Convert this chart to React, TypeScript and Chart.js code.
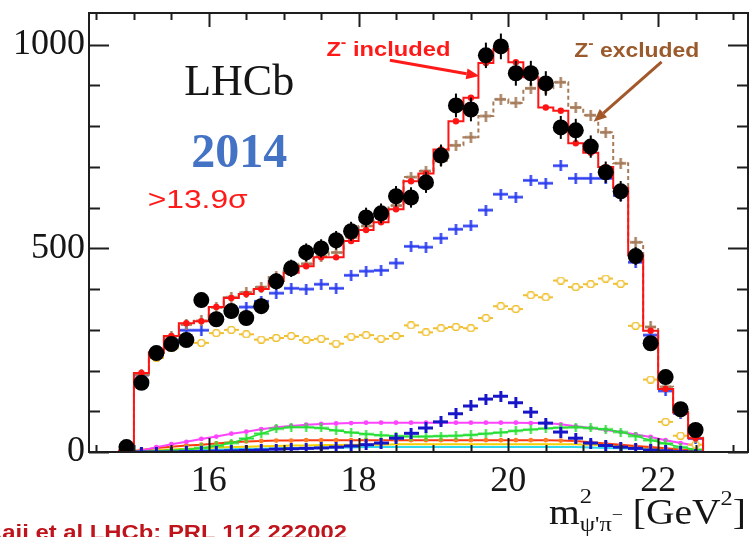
import React, { useEffect, useRef } from "react";
import { Chart, registerables } from "chart.js";

Chart.register(...registerables);

// ---------- data ----------
const BIN_CENTERS = [14.9, 15.1, 15.3, 15.5, 15.7, 15.9, 16.1, 16.3, 16.5, 16.7, 16.9, 17.1, 17.3, 17.5, 17.7, 17.9, 18.1, 18.3, 18.5, 18.7, 18.9, 19.1, 19.3, 19.5, 19.7, 19.9, 20.1, 20.3, 20.5, 20.7, 20.9, 21.1, 21.3, 21.5, 21.7, 21.9, 22.1, 22.3, 22.5];
const BIN_WIDTH = 0.2;

const DATA = [12, 170, 243, 265, 275, 373, 326, 346, 329, 358, 419, 451, 490, 500, 520, 542, 576, 586, 628, 625, 662, 728, 851, 841, 974, 996, 930, 930, 905, 797, 790, 750, 687, 640, 481, 267, 184, 105, 54];
const Z_INCLUDED = [3, 194, 245, 285, 316, 321, 356, 378, 388, 400, 420, 440, 456, 478, 478, 518, 545, 564, 596, 665, 684, 743, 812, 870, 955, 990, 957, 920, 846, 838, 758, 735, 700, 648, 483, 298, 155, 97, 34];
const Z_EXCLUDED = [3, 190, 243, 283, 313, 322, 355, 380, 392, 405, 430, 448, 462, 480, 490, 527, 555, 574, 605, 675, 690, 715, 753, 773, 825, 866, 857, 893, 893, 908, 846, 827, 785, 709, 515, 307, 160, 98, 35];
const KSTAR = [0, 189, 240, 275, 299, 299, 330, 345, 356, 370, 390, 402, 400, 412, 402, 434, 444, 446, 464, 505, 503, 525, 547, 555, 594, 633, 626, 667, 660, 703, 672, 672, 672, 630, 466, 287, 150, 95, 33];
const NONRES = [0, 178, 231, 255, 278, 268, 292, 300, 289, 276, 280, 285, 275, 278, 266, 283, 287, 278, 285, 311, 294, 304, 307, 304, 329, 358, 351, 385, 380, 421, 405, 412, 426, 413, 310, 178, 74, 40, 18];
const Z4430 = [0, 0, 0, 0, 1, 1, 2, 3, 4, 5, 7, 8, 9, 10, 12, 15, 18, 22, 34, 46, 59, 74, 94, 113, 130, 137, 121, 98, 71, 49, 34, 22, 16, 12, 9, 5, 3, 1, 0];
const MAGENTA = [0, 3, 12, 19, 25, 32, 38, 45, 50, 56, 61, 64, 67, 69, 70, 71, 72, 72, 72, 72, 72, 72, 72, 72, 72, 72, 72, 71, 71, 68, 63, 59, 54, 49, 43, 37, 29, 22, 16];
const GREEN = [0, 1, 2, 4, 6, 10, 15, 22, 33, 45, 57, 61, 61, 59, 53, 48, 44, 41, 39, 38, 38, 39, 40, 42, 45, 48, 52, 55, 58, 60, 61, 59, 56, 49, 39, 29, 21, 12, 6];
const ORANGE = [0, 5, 10, 13, 16, 18, 21, 24, 26, 27, 28, 28, 29, 29, 29, 29, 29, 29, 29, 29, 29, 29, 29, 29, 29, 29, 29, 29, 29, 28, 27, 24, 21, 18, 15, 12, 9, 6, 4];
const YELLOW_SMALL = [0, 2, 4, 6, 8, 9, 11, 12, 13, 14, 15, 16, 16, 17, 17, 18, 18, 18, 19, 19, 19, 19, 19, 19, 19, 19, 19, 19, 19, 19, 19, 18, 17, 15, 13, 10, 8, 5, 3];
const CYAN = [0, 1, 2, 3, 4, 5, 6, 7, 8, 8, 9, 10, 10, 11, 11, 11, 12, 12, 12, 12, 12, 12, 12, 12, 12, 12, 12, 12, 12, 12, 12, 11, 10, 9, 8, 6, 4, 3, 2];

const X_TICK_LABELS = [16, 18, 20, 22];
const Y_TICK_LABELS = [0, 500, 1000];
const X_MIN = 14.4;
const X_MAX = 23.2;
const Y_MIN = 0;
const Y_MAX = 1078;
const X_MINOR_STEP = 0.5;
const Y_MINOR_STEP = 100;

// annotation anchors, in data units
const ANNOT = {
  lhcb: { x: 16.405, y: 877 },
  year: { x: 16.405, y: 700 },
  sigma: { x: 15.184, y: 599 },
  zin: { x: 17.57, y: 972 },
  zex: { x: 20.88, y: 970 },
  arrowIn: { x0: 18.418, y0: 962, x1: 19.613, y1: 923 },
  arrowEx: { x0: 22.046, y0: 958, x1: 21.139, y1: 811 },
};

// ---------- helpers ----------
const atCenters = (vals: number[]) => vals.map((v, i) => ({ x: BIN_CENTERS[i], y: v }));

function stepPoints(vals: number[]) {
  const pts: { x: number; y: number }[] = [];
  const first = BIN_CENTERS[0] - BIN_WIDTH / 2;
  pts.push({ x: first, y: 0 });
  vals.forEach((v, i) => {
    pts.push({ x: BIN_CENTERS[i] - BIN_WIDTH / 2, y: v });
    pts.push({ x: BIN_CENTERS[i] + BIN_WIDTH / 2, y: v });
  });
  pts.push({ x: BIN_CENTERS[BIN_CENTERS.length - 1] + BIN_WIDTH / 2, y: 0 });
  return pts;
}

function makeMarker(o: { color: string; w: number; h: number; lw: number; vertical?: boolean; circle?: number; circleFill?: string }) {
  const c = document.createElement("canvas");
  c.width = o.w;
  c.height = o.h;
  const g = c.getContext("2d")!;
  g.strokeStyle = o.color;
  g.lineWidth = o.lw;
  g.beginPath();
  g.moveTo(0, o.h / 2);
  g.lineTo(o.w, o.h / 2);
  if (o.vertical !== false) {
    g.moveTo(o.w / 2, 0);
    g.lineTo(o.w / 2, o.h);
  }
  g.stroke();
  if (o.circle) {
    g.beginPath();
    g.arc(o.w / 2, o.h / 2, o.circle, 0, Math.PI * 2);
    g.fillStyle = o.circleFill || o.color;
    g.fill();
    g.lineWidth = 1.6;
    g.stroke();
  }
  return c;
}

type Seg = { t: string; k?: number; dy?: number; noAdv?: boolean };

function drawRich(ctx: CanvasRenderingContext2D, segs: Seg[], x: number, y: number, base: number, family: string, weight: string, color: string, align: "left" | "center" | "right", targetW?: number) {
  ctx.save();
  ctx.fillStyle = color;
  ctx.textBaseline = "alphabetic";
  ctx.textAlign = "left";
  const widths = segs.map((s) => {
    ctx.font = `${weight} ${base * (s.k ?? 1)}px ${family}`;
    return ctx.measureText(s.t).width;
  });
  const natural = segs.reduce((a, s, i) => a + (s.noAdv ? 0 : widths[i]), 0);
  const sx = targetW ? targetW / natural : 1;
  const total = natural * sx;
  const left = align === "left" ? x : align === "center" ? x - total / 2 : x - total;
  ctx.translate(left, y);
  ctx.scale(sx, 1);
  let cx = 0;
  segs.forEach((s, i) => {
    ctx.font = `${weight} ${base * (s.k ?? 1)}px ${family}`;
    ctx.fillText(s.t, cx, (s.dy ?? 0) * base);
    if (!s.noAdv) cx += widths[i];
  });
  ctx.restore();
}

function arrow(ctx: CanvasRenderingContext2D, x0: number, y0: number, x1: number, y1: number, color: string, lw: number, headLen: number, headW: number) {
  const ang = Math.atan2(y1 - y0, x1 - x0);
  const bx = x1 - headLen * Math.cos(ang);
  const by = y1 - headLen * Math.sin(ang);
  ctx.save();
  ctx.strokeStyle = color;
  ctx.lineWidth = lw;
  ctx.beginPath();
  ctx.moveTo(x0, y0);
  ctx.lineTo(bx, by);
  ctx.stroke();
  ctx.fillStyle = color;
  ctx.beginPath();
  ctx.moveTo(x1, y1);
  ctx.lineTo(bx + (headW / 2) * Math.sin(ang), by - (headW / 2) * Math.cos(ang));
  ctx.lineTo(bx - (headW / 2) * Math.sin(ang), by + (headW / 2) * Math.cos(ang));
  ctx.closePath();
  ctx.fill();
  ctx.restore();
}

const SERIF = "'Liberation Serif', 'Times New Roman', serif";
const SANS = "'Liberation Sans', Arial, sans-serif";

const decorPlugin = {
  id: "decor",
  afterDatasetsDraw(chart: any) {
    const { ctx, scales } = chart;
    const xs = scales.x;
    const ys = scales.y;
    // statistical error bars of the data points
    ctx.save();
    ctx.strokeStyle = "#000";
    ctx.lineWidth = 2;
    DATA.forEach((v, i) => {
      const e = Math.sqrt(v);
      const px = xs.getPixelForValue(BIN_CENTERS[i]);
      ctx.beginPath();
      ctx.moveTo(px, ys.getPixelForValue(Math.max(v - e, 0)));
      ctx.lineTo(px, ys.getPixelForValue(v + e));
      ctx.stroke();
    });
    ctx.restore();
  },
  afterDraw(chart: any) {
    const { ctx, chartArea: ca, scales } = chart;
    const xs = scales.x;
    const ys = scales.y;
    ctx.save();
    // frame
    ctx.strokeStyle = "#1e1e1e";
    ctx.lineWidth = 2;
    ctx.strokeRect(ca.left, ca.top, ca.right - ca.left, ca.bottom - ca.top);
    // inner tick marks
    ctx.lineWidth = 2;
    const nx0 = Math.ceil(X_MIN / X_MINOR_STEP - 1e-9);
    const nx1 = Math.floor(X_MAX / X_MINOR_STEP + 1e-9);
    for (let n = nx0; n <= nx1; n++) {
      const v = n * X_MINOR_STEP;
      const px = Math.round(xs.getPixelForValue(v)) + 0.5;
      const major = X_TICK_LABELS.some((t) => Math.abs(t - v) < 1e-6);
      const len = major ? 14 : 7;
      ctx.beginPath();
      ctx.moveTo(px, ca.bottom);
      ctx.lineTo(px, ca.bottom - len);
      ctx.moveTo(px, ca.top);
      ctx.lineTo(px, ca.top + len);
      ctx.stroke();
    }
    const ny1 = Math.floor(Y_MAX / Y_MINOR_STEP + 1e-9);
    for (let n = Math.ceil(Y_MIN / Y_MINOR_STEP); n <= ny1; n++) {
      const v = n * Y_MINOR_STEP;
      const py = Math.round(ys.getPixelForValue(v)) + 0.5;
      const major = Y_TICK_LABELS.some((t) => Math.abs(t - v) < 1e-6);
      const len = major ? 20 : 11;
      ctx.beginPath();
      ctx.moveTo(ca.left, py);
      ctx.lineTo(ca.left + len, py);
      ctx.moveTo(ca.right, py);
      ctx.lineTo(ca.right - len, py);
      ctx.stroke();
    }
    ctx.restore();

    const X = (v: number) => xs.getPixelForValue(v);
    const Y = (v: number) => ys.getPixelForValue(v);

    // annotations
    drawRich(ctx, [{ t: "LHCb" }], X(ANNOT.lhcb.x), Y(ANNOT.lhcb.y), 44, SERIF, "normal", "#151515", "center");
    drawRich(ctx, [{ t: "2014" }], X(ANNOT.year.x), Y(ANNOT.year.y), 48, SERIF, "bold", "#4472c4", "center");
    drawRich(ctx, [{ t: ">13.9σ" }], X(ANNOT.sigma.x), Y(ANNOT.sigma.y), 25, SANS, "normal", "#ff1a1a", "left", 100);
    drawRich(ctx, [{ t: "Z" }, { t: "-", k: 0.7, dy: -0.42 }, { t: " included" }], X(ANNOT.zin.x), Y(ANNOT.zin.y), 21, SANS, "bold", "#ff1a1a", "left", 124);
    drawRich(ctx, [{ t: "Z" }, { t: "-", k: 0.7, dy: -0.42 }, { t: " excluded" }], X(ANNOT.zex.x), Y(ANNOT.zex.y), 21, SANS, "bold", "#9a5a2c", "left", 125);
    arrow(ctx, X(ANNOT.arrowIn.x0), Y(ANNOT.arrowIn.y0), X(ANNOT.arrowIn.x1), Y(ANNOT.arrowIn.y1), "#ff1a1a", 3, 13, 11);
    arrow(ctx, X(ANNOT.arrowEx.x0), Y(ANNOT.arrowEx.y0), X(ANNOT.arrowEx.x1), Y(ANNOT.arrowEx.y1), "#a3582a", 3, 13, 11);

    // x-axis title (ROOT style, right aligned)
    drawRich(
      ctx,
      [
        { t: "m" },
        { t: "2", k: 0.62, dy: -0.6, noAdv: true },
        { t: "ψ'π", k: 0.62, dy: 0.2 },
        { t: "−", k: 0.5, dy: -0.12 },
        { t: " [GeV" },
        { t: "2", k: 0.62, dy: -0.55 },
        { t: "]" },
      ],
      ca.right - 2,
      ca.bottom + 72,
      35,
      SERIF,
      "normal",
      "#151515",
      "right",
      197
    );

    // reference line at the bottom-left
    drawRich(ctx, [{ t: "Aaij et al LHCb: PRL 112 222002" }], 347, ca.bottom + 87, 21, SANS, "bold", "#c0141c", "right", 362);
  },
};

export default function App() {
  const ref = useRef<HTMLCanvasElement>(null);

  useEffect(() => {
    const canvas = ref.current!;
    const kstarMark = makeMarker({ color: "#2a3cf0", w: 15, h: 11, lw: 2.4 });
    const navyMark = makeMarker({ color: "#1616c8", w: 15, h: 11, lw: 3 });
    const greenMark = makeMarker({ color: "#26df35", w: 15, h: 9, lw: 2 });
    const brownMark = makeMarker({ color: "#a67c5b", w: 11, h: 11, lw: 2.4 });
    const yellowMark = makeMarker({ color: "#f0c030", w: 15, h: 8, lw: 2, vertical: false, circle: 3.6, circleFill: "#ffffff" });

    const chart = new Chart(canvas, {
      type: "line",
      data: {
        datasets: [
          { data: atCenters(DATA), showLine: false, pointRadius: 8, pointBackgroundColor: "#000", pointBorderWidth: 0 },
          { data: atCenters(Z_INCLUDED), showLine: false, pointRadius: 3.2, pointBackgroundColor: "#ff1414", pointBorderWidth: 0 },
          { data: stepPoints(Z_INCLUDED), borderColor: "#ff1414", borderWidth: 2, pointRadius: 0, tension: 0 },
          { data: atCenters(Z_EXCLUDED), showLine: false, pointStyle: brownMark, pointRadius: 5 },
          { data: stepPoints(Z_EXCLUDED), borderColor: "#a67c5b", borderWidth: 2, borderDash: [4, 3], pointRadius: 0, tension: 0 },
          { data: atCenters(KSTAR), showLine: false, pointStyle: kstarMark, pointRadius: 6 },
          { data: atCenters(NONRES), showLine: false, pointStyle: yellowMark, pointRadius: 6 },
          { data: atCenters(Z4430), showLine: false, pointStyle: navyMark, pointRadius: 6 },
          { data: atCenters(GREEN), borderColor: "#26df35", borderWidth: 1.5, pointStyle: greenMark, pointRadius: 6, tension: 0 },
          { data: atCenters(MAGENTA), borderColor: "#ff44ff", borderWidth: 2, pointRadius: 2.4, pointBackgroundColor: "#ff44ff", pointBorderWidth: 0, tension: 0 },
          { data: atCenters(ORANGE), borderColor: "#ff3a10", borderWidth: 2, pointRadius: 2.4, pointBackgroundColor: "#ff7a20", pointBorderWidth: 0, tension: 0 },
          { data: atCenters(YELLOW_SMALL), borderColor: "#f5d000", borderWidth: 2, pointRadius: 0, tension: 0 },
          { data: atCenters(CYAN), borderColor: "#2fd8ea", borderWidth: 2, pointRadius: 0, tension: 0 },
        ],
      },
      options: {
        animation: false,
        responsive: false,
        events: [],
        layout: { padding: { left: 0, top: 13, right: 4, bottom: 0 } },
        plugins: { legend: { display: false }, tooltip: { enabled: false } },
        scales: {
          x: {
            type: "linear",
            min: X_MIN,
            max: X_MAX,
            grid: { display: false, drawTicks: false },
            border: { display: false },
            afterBuildTicks: (s: any) => {
              s.ticks = X_TICK_LABELS.map((v) => ({ value: v }));
            },
            afterFit: (s: any) => {
              s.height = 85;
              s.paddingLeft = 0;
              s.paddingRight = 0;
            },
            ticks: {
              padding: 8,
              autoSkip: false,
              maxRotation: 0,
              color: "#161616",
              font: { family: SERIF, size: 36 },
              callback: (v: any) => String(v),
            },
          },
          y: {
            min: Y_MIN,
            max: Y_MAX,
            grid: { display: false, drawTicks: false },
            border: { display: false },
            afterBuildTicks: (s: any) => {
              s.ticks = Y_TICK_LABELS.map((v) => ({ value: v }));
            },
            afterFit: (s: any) => {
              s.width = 89;
              s.paddingTop = 0;
              s.paddingBottom = 0;
            },
            ticks: {
              padding: 4,
              autoSkip: false,
              color: "#161616",
              font: { family: SERIF, size: 36 },
              callback: (v: any) => String(v),
            },
          },
        },
      },
      plugins: [decorPlugin],
    } as any);
    return () => chart.destroy();
  }, []);

  return (
    <canvas
      ref={ref}
      width={756}
      height={537}
      style={{ position: "absolute", left: 0, top: 0, width: 756, height: 537, background: "#fff" }}
    />
  );
}
